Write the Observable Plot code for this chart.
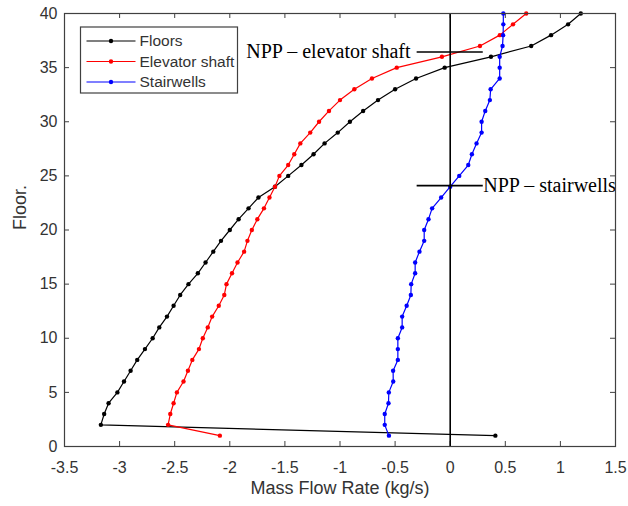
<!DOCTYPE html>
<html><head><meta charset="utf-8">
<script src="https://cdn.jsdelivr.net/npm/d3@7"></script>
<script src="https://cdn.jsdelivr.net/npm/@observablehq/plot@0.6"></script>
<style>html,body{margin:0;padding:0;background:#fff}</style>
</head><body><div id="chart"></div>
<script>
const floorLevels = [1,2,3,4,5,6,7,8,9,10,11,12,13,14,15,16,17,18,19,20,21,22,23,24,25,26,27,28,29,30,31,32,33,34,35,36,37,38,39,40];
const floorsFlow = [0.41,-3.17,-3.14,-3.10,-3.02,-2.96,-2.90,-2.84,-2.77,-2.70,-2.64,-2.57,-2.51,-2.45,-2.375,-2.29,-2.22,-2.15,-2.08,-2.00,-1.92,-1.83,-1.74,-1.59,-1.47,-1.35,-1.24,-1.14,-1.02,-0.91,-0.79,-0.655,-0.50,-0.31,-0.05,0.37,0.735,0.915,1.07,1.185];
const elevatorFlow = [-2.09,-2.56,-2.54,-2.51,-2.48,-2.42,-2.38,-2.34,-2.28,-2.245,-2.20,-2.16,-2.10,-2.05,-2.03,-1.98,-1.93,-1.87,-1.84,-1.80,-1.75,-1.69,-1.64,-1.59,-1.55,-1.47,-1.415,-1.36,-1.27,-1.19,-1.10,-1.00,-0.87,-0.71,-0.485,-0.075,0.27,0.45,0.57,0.69];
const stairFlow = [-0.556,-0.594,-0.594,-0.56,-0.557,-0.517,-0.518,-0.475,-0.475,-0.475,-0.436,-0.436,-0.395,-0.357,-0.354,-0.318,-0.318,-0.279,-0.236,-0.236,-0.197,-0.164,-0.082,0.0,0.082,0.164,0.197,0.239,0.285,0.285,0.318,0.36,0.367,0.449,0.449,0.449,0.475,0.48,0.482,0.482];
const seriesNames = ["Floors","Elevator shaft","Stairwells"];
const seriesColors = ["#000000","#ff0000","#0000ff"];
const xTicks = [-3.5,-3,-2.5,-2,-1.5,-1,-0.5,0,0.5,1,1.5];
const yTicks = [0,5,10,15,20,25,30,35,40];
const nppLabels = ["NPP – elevator shaft","NPP – stairwells"];
const nppFloors = [36.45, 24.1];
const nppX1 = [-0.30, -0.30];
const nppX2 = [0.30, 0.30];
const nppTextX = [-0.36, 0.30];
const xTitle = "Mass Flow Rate (kg/s)";
const yTitle = "Floor.";

const seriesValues = [floorsFlow, elevatorFlow, stairFlow];
const rows = [];
seriesNames.forEach((s, i) => floorLevels.forEach((f, j) => rows.push({series: s, floor: f, flow: seriesValues[i][j]})));
const npp = nppLabels.map((t, i) => ({label: t, floor: nppFloors[i], x1: nppX1[i], x2: nppX2[i], tx: nppTextX[i]}));

const W = 628, H = 506, mL = 64, mR = 13, mT = 13, mB = 60;
const pw = W - mL - mR, ph = H - mT - mB, tk = 5;
const axisColor = "#404040", labelColor = "#333";
const serif = "'Liberation Serif', 'Times New Roman', serif";

const chart = Plot.plot({
  width: W, height: H,
  marginLeft: mL, marginRight: mR, marginTop: mT, marginBottom: mB,
  style: {fontFamily: "'Liberation Sans', Arial, sans-serif", background: "#fff"},
  x: {domain: [-3.5, 1.5]},
  y: {domain: [0, 40]},
  color: {domain: seriesNames, range: seriesColors},
  marks: [
    Plot.axisX(xTicks, {anchor: "bottom", tickSize: 0, tickPadding: 15, fontSize: 16, fill: labelColor, tickFormat: d => String(d), label: null}),
    Plot.axisY(yTicks, {anchor: "left", tickSize: 0, tickPadding: 7, fontSize: 16, fill: labelColor, tickFormat: d => String(d), label: null}),
    Plot.tickX(xTicks, {x: d => d, insetTop: ph - tk, stroke: axisColor}),
    Plot.tickX(xTicks, {x: d => d, insetBottom: ph - tk, stroke: axisColor}),
    Plot.tickY(yTicks, {y: d => d, insetRight: pw - tk, stroke: axisColor}),
    Plot.tickY(yTicks, {y: d => d, insetLeft: pw - tk, stroke: axisColor}),
    Plot.line(rows, {x: "flow", y: "floor", z: "series", stroke: "series", strokeWidth: 1.2}),
    Plot.dot(rows, {x: "flow", y: "floor", fill: "series", r: 2.2}),
    Plot.ruleX([0], {stroke: "#000", strokeWidth: 1.6}),
    Plot.ruleY(npp, {y: "floor", x1: "x1", x2: "x2", stroke: "#000", strokeWidth: 1.6}),
    Plot.text([npp[0]], {x: "tx", y: "floor", text: "label", textAnchor: "end", fontFamily: serif, fontSize: 20, fill: "#000"}),
    Plot.text([npp[1]], {x: "tx", y: "floor", text: "label", textAnchor: "start", fontFamily: serif, fontSize: 20, fill: "#000"}),
    Plot.text([xTitle], {frameAnchor: "bottom", dy: 47, fontSize: 18, fill: labelColor}),
    Plot.text([yTitle], {frameAnchor: "left", dx: -44, rotate: -90, fontSize: 18, fill: labelColor}),
    Plot.frame({stroke: axisColor, strokeWidth: 1.2})
  ]
});

// Legend (inside the axes, top-left)
const svg = d3.select(chart);
const lg = svg.append("g").attr("transform", "translate(80.5,27)");
lg.append("rect").attr("width", 157).attr("height", 66).attr("fill", "#fff").attr("stroke", axisColor).attr("stroke-width", 1.2);
seriesNames.forEach((s, i) => {
  const y = 14 + i * 20.5;
  lg.append("line").attr("x1", 6).attr("x2", 55).attr("y1", y).attr("y2", y).attr("stroke", seriesColors[i]).attr("stroke-width", 1.2);
  lg.append("circle").attr("cx", 30.5).attr("cy", y).attr("r", 2.2).attr("fill", seriesColors[i]);
  lg.append("text").attr("x", 59).attr("y", y).attr("dy", "0.35em").attr("text-anchor", "start")
    .attr("font-size", 15.5).attr("fill", labelColor)
    .attr("font-family", "'Liberation Sans', Arial, sans-serif").text(s);
});

document.getElementById("chart").appendChild(chart);
</script>
</body></html>
